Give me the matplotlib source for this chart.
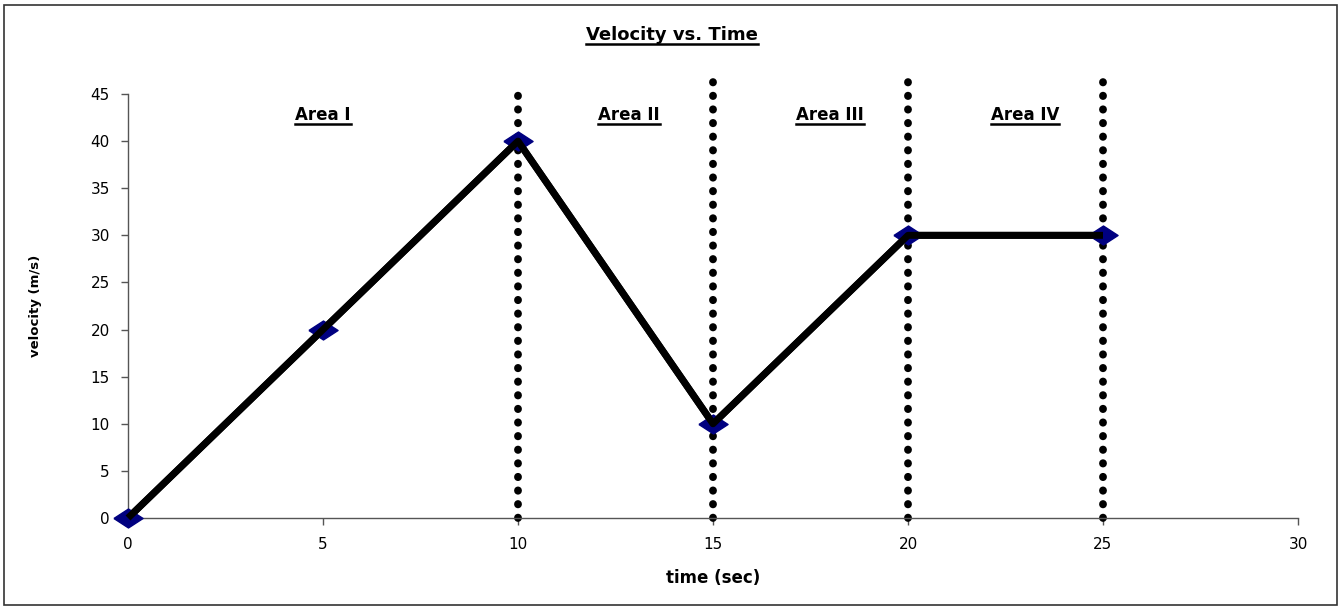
import matplotlib
matplotlib.use('Agg')
import matplotlib.pyplot as plt
from matplotlib.lines import Line2D
from matplotlib.patches import Rectangle

# Data
time_s = [0, 5, 10, 15, 20, 25]
velocity = [0, 20, 40, 10, 30, 30]

divider_x = [10, 15, 20, 25]
divider_top = [45.9, 47.1, 46.4, 46.4]

area_labels = ['Area I', 'Area II', 'Area III', 'Area IV']
area_x = [5, 12.85, 18, 23]
area_y = 42.2

x_ticks = [0, 5, 10, 15, 20, 25, 30]
y_ticks = [0, 5, 10, 15, 20, 25, 30, 35, 40, 45]

plt.rcParams['font.family'] = ['DejaVu Sans']

fig = plt.figure(figsize=(13.44, 6.09), dpi=100)
ax = fig.add_axes([128 / 1344, 1 - 518 / 609, 1170 / 1344, 424 / 609])

# outer chart border
fig.patches.append(Rectangle((4 / 1344, 4 / 609), 1333 / 1344, 600 / 609,
                             transform=fig.transFigure, fill=False,
                             edgecolor='#333333', lw=1.2))

# dotted area dividers
for xv, top in zip(divider_x, divider_top):
    ax.plot([xv, xv], [0, top], color='black', lw=5.6,
            linestyle=(0, (0.05, 1.7)), dash_capstyle='round',
            clip_on=False, zorder=2)

# flattened diamond marker
diamond = [(-1, 0), (0, 0.65), (1, 0), (0, -0.65), (-1, 0)]
ax.plot(time_s, velocity, color='black', lw=5, marker=diamond,
        markersize=21, markerfacecolor='#000080', markeredgecolor='#000080',
        clip_on=False, zorder=3)
# redraw line on top of the markers
ax.plot(time_s, velocity, color='black', lw=5, solid_capstyle='butt',
        clip_on=False, zorder=4)

ax.set_xlim(0, 30)
ax.set_ylim(0, 45)
ax.set_xticks(x_ticks)
ax.set_yticks(y_ticks)
ax.tick_params(labelsize=11, length=5, width=1, color='#555555')
ax.tick_params(axis='y', pad=8)
ax.tick_params(axis='x', pad=9)
for s in ['top', 'right']:
    ax.spines[s].set_visible(False)
for s in ['left', 'bottom']:
    ax.spines[s].set_color('#555555')
    ax.spines[s].set_linewidth(1)

underlined = []
for lab, xv in zip(area_labels, area_x):
    t = ax.text(xv, area_y, lab, ha='center', va='baseline',
                fontsize=12, fontweight='bold')
    underlined.append(t)

title = fig.text(0.5, 1 - 40 / 609, 'Velocity vs. Time', ha='center',
                 va='baseline', fontsize=13, fontweight='bold')
underlined.append(title)

fig.text(713 / 1344, 1 - 578 / 609, 'time (sec)', ha='center', va='center',
         fontsize=12, fontweight='bold')
fig.text(35 / 1344, 1 - 306 / 609, 'velocity (m/s)', ha='center', va='center',
         rotation=90, fontsize=9.5, fontweight='bold')

# underline the title and area labels
fig.canvas.draw()
renderer = fig.canvas.get_renderer()
for t in underlined:
    bb = t.get_window_extent(renderer)
    _, ybase = t.get_transform().transform(t.get_position())
    yline = ybase - 4
    fig.lines.append(Line2D([bb.x0, bb.x1], [yline, yline], color='black',
                            lw=1.8, transform=None))

fig.savefig('out.png', dpi=100)
